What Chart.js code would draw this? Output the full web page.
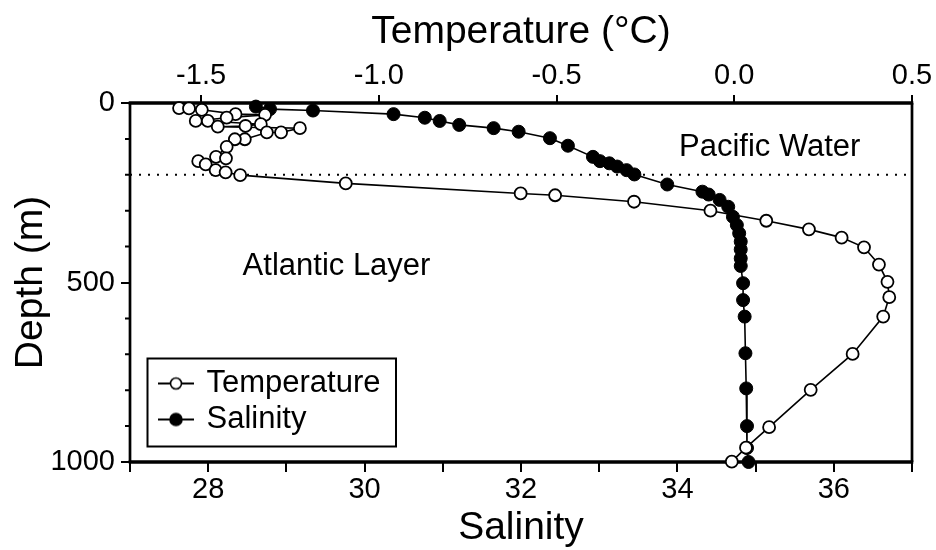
<!DOCTYPE html>
<html>
<head>
<meta charset="utf-8">
<title>Temperature and salinity profile</title>
<script src="https://cdn.jsdelivr.net/npm/chart.js@4.4.1/dist/chart.umd.min.js"></script>
<style>
  html, body { margin: 0; padding: 0; background: #fff; }
  #wrap { width: 936px; height: 550px; }
</style>
</head>
<body>
<div id="wrap"><canvas id="chart-profile" width="936" height="550"></canvas></div>
<script>
(function () {
  'use strict';

  // Temperature profile (open circles), depth in m, temperature in deg C
  var TEMP_DEPTH = [14, 15, 19, 31, 33, 41, 50, 50, 59, 64, 66, 70, 82, 82, 101, 101, 122, 150, 154, 162, 171, 187, 193, 201,
    224, 252, 257, 275, 300, 328, 352, 375, 402, 450, 498, 541, 595, 699, 799, 903, 960, 999];
  var TEMP_VALUES = [-1.562, -1.534, -1.498, -1.403, -1.320, -1.428, -1.515, -1.481, -1.332, -1.375, -1.453, -1.222,
    -1.275, -1.315, -1.377, -1.405, -1.428, -1.458, -1.430, -1.508, -1.487, -1.459, -1.431, -1.390,
    -1.093, -0.601, -0.504, -0.282, -0.067, 0.090, 0.210, 0.302, 0.365, 0.407, 0.431, 0.436, 0.419,
    0.333, 0.215, 0.098, 0.033, -0.007];

  // Salinity profile (filled circles)
  var SAL_DEPTH = [10, 17, 21, 31, 41, 50, 61, 70, 80, 98, 119, 150, 162, 168, 177, 187, 199, 227, 247, 255, 270, 289,
    317, 340, 363, 386, 408, 433, 454, 502, 549, 595, 697, 795, 900, 961, 1000];
  var SAL_VALUES = [28.61, 28.79, 29.34, 30.37, 30.77, 30.96, 31.21, 31.65, 31.97, 32.37, 32.60, 32.92, 33.01, 33.13,
    33.23, 33.35, 33.45, 33.87, 34.32, 34.40, 34.54, 34.65, 34.71, 34.76, 34.79, 34.81, 34.81, 34.81, 34.81,
    34.84, 34.84, 34.86, 34.87, 34.88, 34.89, 34.89, 34.91];

  var SAL_TICKS = [27, 28, 29, 30, 31, 32, 33, 34, 35, 36, 37];
  var TEMP_TICKS = [-1.5, -1.0, -0.5, 0.0, 0.5];
  var DEPTH_TICKS = [0, 500, 1000];
  var DEPTH_MINOR = [100, 200, 300, 400, 600, 700, 800, 900];
  var BOUNDARY_DEPTH = 200;

  // water mass labels, anchored in salinity / depth units
  var REGION_TEXT = ['Pacific Water', 'Atlantic Layer'];
  var REGION_SAL = [34.02, 28.44];
  var REGION_DEPTH = [124, 454];

  var FONT = "'Liberation Sans', Arial, Helvetica, sans-serif";
  Chart.defaults.font.family = FONT;
  Chart.defaults.color = '#000';

  function pts(xs, ys) {
    return xs.map(function (x, i) { return { x: x, y: ys[i] }; });
  }

  function useTicks(list) {
    return function (scale) {
      scale.ticks = list.map(function (v) { return { value: v }; });
    };
  }

  function fixSize(prop, size) {
    return function (scale) { scale[prop] = size; };
  }

  // legend glyph: short line with a marker in the middle
  function makeIcon(filled) {
    var c = document.createElement('canvas');
    c.width = 36; c.height = 16;
    var g = c.getContext('2d');
    g.strokeStyle = '#000';
    g.lineWidth = 2;
    g.beginPath(); g.moveTo(0, 8); g.lineTo(36, 8); g.stroke();
    g.beginPath(); g.arc(18, 8, filled ? 6 : 5.5, 0, Math.PI * 2);
    g.fillStyle = filled ? '#000' : '#fff';
    g.fill();
    g.lineWidth = 1.6;
    g.stroke();
    return c;
  }
  var ICONS = [makeIcon(false), makeIcon(true)];

  // put the legend in the lower left corner of the plot
  var legendPlacer = {
    id: 'legendPlacer',
    afterLayout: function (chart) {
      var lg = chart.legend, a = chart.chartArea;
      lg.left = a.left + 26;
      lg.right = a.left + 266;
      lg.top = a.bottom - 99;
      lg.bottom = a.bottom - 14;
      lg.width = lg.right - lg.left;
      lg.height = lg.bottom - lg.top;
    }
  };

  var decorations = {
    id: 'decorations',
    beforeDatasetsDraw: function (chart) {
      var a = chart.chartArea, ctx = chart.ctx, ys = chart.scales.y, xs = chart.scales.x;
      ctx.save();
      ctx.strokeStyle = '#000';

      // plot frame
      ctx.lineWidth = 3.5;
      ctx.beginPath();
      ctx.moveTo(a.left - 1.3, a.top); ctx.lineTo(a.right + 1.3, a.top);
      ctx.moveTo(a.left - 1.3, a.bottom); ctx.lineTo(a.right + 1.3, a.bottom);
      ctx.stroke();
      ctx.lineWidth = 2.7;
      ctx.beginPath();
      ctx.moveTo(a.left, a.top); ctx.lineTo(a.left, a.bottom);
      ctx.moveTo(a.right, a.top); ctx.lineTo(a.right, a.bottom);
      ctx.stroke();

      // minor depth ticks
      ctx.lineWidth = 2;
      ctx.beginPath();
      DEPTH_MINOR.forEach(function (d) {
        var py = ys.getPixelForValue(d);
        ctx.moveTo(a.left - 5, py); ctx.lineTo(a.left, py);
      });
      ctx.stroke();

      // legend box
      ctx.lineWidth = 2;
      ctx.strokeRect(a.left + 17.5, a.bottom - 103.5, 248.5, 88);

      // water mass labels
      ctx.fillStyle = '#000';
      ctx.font = '31px ' + FONT;
      ctx.textAlign = 'left';
      ctx.textBaseline = 'middle';
      REGION_TEXT.forEach(function (t, i) {
        ctx.fillText(t, xs.getPixelForValue(REGION_SAL[i]), ys.getPixelForValue(REGION_DEPTH[i]));
      });
      ctx.restore();
    }
  };

  var tickFont = { size: 29 };
  var titleFont = { size: 39 };

  new Chart(document.getElementById('chart-profile').getContext('2d'), {
    type: 'scatter',
    data: {
      datasets: [
        {
          label: 'Temperature',
          data: pts(TEMP_VALUES, TEMP_DEPTH),
          xAxisID: 'x2',
          yAxisID: 'y',
          showLine: true,
          borderColor: '#000',
          borderWidth: 1.6,
          pointRadius: 6,
          pointBackgroundColor: '#fff',
          pointBorderColor: '#000',
          pointBorderWidth: 1.8,
          clip: false
        },
        {
          label: 'Salinity',
          data: pts(SAL_VALUES, SAL_DEPTH),
          xAxisID: 'x',
          yAxisID: 'y',
          showLine: true,
          borderColor: '#000',
          borderWidth: 1.6,
          pointRadius: 6.5,
          pointBackgroundColor: '#000',
          pointBorderColor: '#000',
          pointBorderWidth: 1,
          clip: false
        },
        {
          label: 'Boundary',
          data: [{ x: SAL_TICKS[0], y: BOUNDARY_DEPTH }, { x: SAL_TICKS[SAL_TICKS.length - 1], y: BOUNDARY_DEPTH }],
          xAxisID: 'x',
          yAxisID: 'y',
          showLine: true,
          borderColor: '#000',
          borderWidth: 2,
          borderDash: [2, 7],
          pointRadius: 0
        }
      ]
    },
    options: {
      responsive: false,
      maintainAspectRatio: false,
      animation: false,
      events: [],
      layout: { padding: { left: 0, top: 0, right: 24, bottom: 0 } },
      plugins: {
        tooltip: { enabled: false },
        legend: {
          display: true,
          position: 'chartArea',
          align: 'start',
          labels: {
            usePointStyle: true,
            boxWidth: 30,
            padding: 5,
            textAlign: 'left',
            font: { size: 31 },
            generateLabels: function (chart) {
              var items = Chart.defaults.plugins.legend.labels.generateLabels(chart);
              return items.filter(function (it) { return it.datasetIndex < 2; }).map(function (it) {
                it.pointStyle = ICONS[it.datasetIndex];
                return it;
              });
            }
          }
        }
      },
      scales: {
        x: {
          type: 'linear',
          position: 'bottom',
          min: SAL_TICKS[0],
          max: SAL_TICKS[SAL_TICKS.length - 1],
          afterBuildTicks: useTicks(SAL_TICKS),
          afterFit: fixSize('height', 88),
          border: { display: false },
          grid: { display: true, drawOnChartArea: false, drawTicks: true, tickLength: 10, color: '#000', lineWidth: 2 },
          ticks: {
            autoSkip: false, maxRotation: 0, padding: 1, font: tickFont, color: '#000',
            callback: function (v) { return v % 2 === 0 ? String(v) : ''; }
          },
          title: { display: true, text: 'Salinity', font: titleFont, color: '#000', padding: { top: 0, bottom: -2 } }
        },
        x2: {
          type: 'linear',
          axis: 'x',
          position: 'top',
          min: -1.7,
          max: 0.5,
          afterBuildTicks: useTicks(TEMP_TICKS),
          afterFit: fixSize('height', 103),
          border: { display: false },
          grid: { display: true, drawOnChartArea: false, drawTicks: true, tickLength: 8, color: '#000', lineWidth: 2 },
          ticks: {
            autoSkip: false, maxRotation: 0, padding: 2, font: tickFont, color: '#000',
            callback: function (v) { return Number(v).toFixed(1); }
          },
          title: { display: true, text: 'Temperature (°C)', font: titleFont, color: '#000', padding: { top: 9, bottom: 0 } }
        },
        y: {
          type: 'linear',
          position: 'left',
          reverse: true,
          min: 0,
          max: 1000,
          afterBuildTicks: useTicks(DEPTH_TICKS),
          afterFit: fixSize('width', 130),
          border: { display: false },
          grid: { display: true, drawOnChartArea: false, drawTicks: true, tickLength: 9, color: '#000', lineWidth: 2 },
          ticks: {
            autoSkip: false, padding: 6, font: tickFont, color: '#000',
            callback: function (v) { return String(v); }
          },
          title: { display: true, text: 'Depth (m)', font: titleFont, color: '#000', padding: { top: 8, bottom: 0 } }
        }
      }
    },
    plugins: [legendPlacer, decorations]
  });
})();
</script>
</body>
</html>
